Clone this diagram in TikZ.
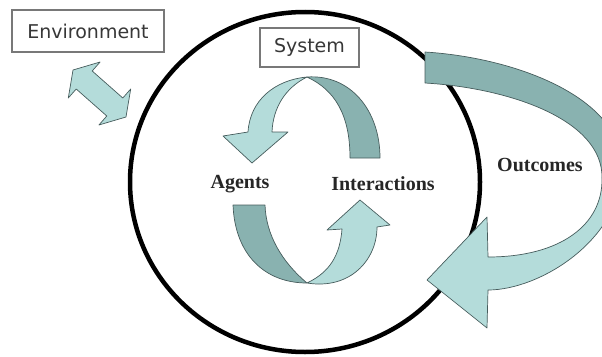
\documentclass[tikz,border=0pt]{standalone}
\usepackage{fontspec}
\setmainfont{Liberation Serif}
\newfontfamily\boxfont{DejaVu Sans}
\definecolor{tealLight}{RGB}{180,220,218}
\definecolor{tealDark}{RGB}{137,178,176}
\definecolor{arrowEdge}{RGB}{70,92,92}
\definecolor{boxEdge}{RGB}{120,120,120}
\definecolor{boxText}{RGB}{55,55,55}
\begin{document}
\begin{tikzpicture}[x=1pt,y=-1pt,
  lightband/.style={fill=tealLight,draw=arrowEdge,line width=0.7pt,line join=round},
  darkband/.style={fill=tealDark,draw=arrowEdge,line width=0.7pt,line join=round},
  labelbox/.style={draw=boxEdge,line width=1.5pt,fill=white,text=boxText,
    font=\boxfont\fontsize{19}{22}\selectfont,inner sep=0pt,anchor=center},
  steplabel/.style={font=\bfseries\fontsize{20}{24}\selectfont,text=black!85,anchor=center}]
\useasboundingbox (0,0) rectangle (602,356);

% system boundary
\draw[line width=4.5pt] (305,182) ellipse [x radius=175, y radius=170];

% labelled boxes
\node[labelbox,minimum width=152pt,minimum height=42pt] (env) at (88,31) {Environment};
\node[labelbox,minimum width=99pt,minimum height=39pt] (sys) at (309.5,47.5) {System};

% two-way exchange with the environment
\path[lightband] (73,70) -- (68.3,98) -- (76.2,89) -- (106.8,116) -- (98.9,125)
  -- (126,117) -- (130.7,89) -- (122.8,98) -- (92.2,71) -- (100.1,62) -- cycle;

% outcomes feeding back: dark upper part
\path[darkband] (425,52) .. controls (520,58) and (625,100) .. (622,170)
  -- (602,178) .. controls (603,120) and (510,88) .. (425,83) -- cycle;
% outcomes feeding back: light lower part with head
\path[lightband] (622,170) .. controls (620,240) and (540,290) .. (488,290)
  -- (487,328) -- (427,280) -- (487,217) -- (488,257)
  .. controls (560,257) and (603,225) .. (602,178) -- cycle;

% upper half of the agent/interaction cycle
\path[darkband] (307,77) .. controls (350,74) and (380,110) .. (380,158)
  -- (350,158) .. controls (350,115) and (335,90) .. (307,77) -- cycle;
\path[lightband] (307,77) .. controls (275,80) and (250,100) .. (248,132)
  -- (223,136) -- (252,163) -- (288,132) -- (272,132)
  .. controls (273,108) and (285,88) .. (307,77) -- cycle;

% lower half of the cycle
\path[darkband] (233,205) .. controls (235,255) and (265,283) .. (307,283)
  .. controls (282,262) and (266,235) .. (265,205) -- cycle;
\path[lightband] (307,283) .. controls (350,290) and (377,260) .. (377,227)
  -- (390,225) -- (360,200) -- (327,230) -- (342,229)
  .. controls (340,255) and (330,272) .. (307,283) -- cycle;

% labels
\node[steplabel] (agents) at (240,184) {Agents};
\node[steplabel] (inter) at (383,184) {Interactions};
\node[steplabel] (outc) at (540,165) {Outcomes};
\end{tikzpicture}
\end{document}
